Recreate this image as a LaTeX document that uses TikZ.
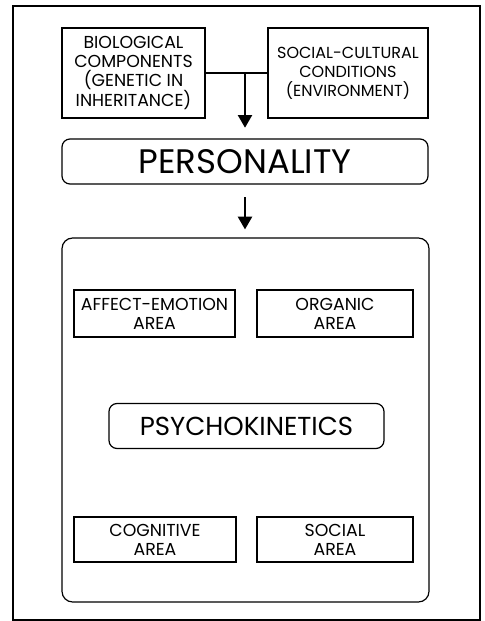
\documentclass[tikz,border=0pt]{standalone}
\usepackage{fontspec}
\setmainfont{Poppins}
\usetikzlibrary{arrows.meta}
\begin{document}
\begin{tikzpicture}[x=0.75pt,y=-0.75pt,
  box/.style={draw,line width=0.9pt,inner sep=0pt,align=center,
    font=\fontsize{13pt}{14.3pt}\selectfont},
  rbox/.style={draw,line width=0.9pt,rounded corners=6pt,inner sep=0pt,align=center},
  flow/.style={line width=1.6pt,-{Triangle[width=10.5pt,length=9.5pt]}},
  link/.style={line width=1.2pt}]
\useasboundingbox (0,0) rectangle (485,621);
\draw[line width=1.5pt] (12.5,6) rectangle (480,619.5);
% top boxes
\node[box,minimum width={143*0.75pt},minimum height={90*0.75pt}] (bio) at (133.5,73)
  {BIOLOGICAL\\COMPONENTS\\(GENETIC IN\\INHERITANCE)};
\node[box,font=\fontsize{12pt}{14.3pt}\selectfont,minimum width={160*0.75pt},minimum height={90*0.75pt}] (soc) at (348,73)
  {SOCIAL-CULTURAL\\CONDITIONS\\(ENVIRONMENT)};
\node[rbox,minimum width={366*0.75pt},minimum height={45*0.75pt},
  font=\fontsize{25.5pt}{28pt}\selectfont] (pers) at (245,161.5) {PERSONALITY};
\draw[link] (bio.east) -- (soc.west);
\coordinate (j) at (245,73);
\draw[flow,shorten >=8pt] (j) -- (j |- pers.north);
% lower area
\node[rbox,rounded corners=8pt,minimum width={367*0.75pt},minimum height={364*0.75pt}] (area) at (245.5,420) {};
\draw[flow,shorten <=9.5pt,shorten >=6pt] (j |- pers.south) -- (j |- area.north);
\node[box,minimum width={161*0.75pt},minimum height={47*0.75pt}] (aff) at (154.5,313.5)
  {AFFECT-EMOTION\\AREA};
\node[box,minimum width={156*0.75pt},minimum height={47*0.75pt}] (org) at (335,313.5)
  {ORGANIC\\AREA};
\node[rbox,minimum width={275*0.75pt},minimum height={45*0.75pt},
  font=\fontsize{19.5pt}{22pt}\selectfont] (psy) at (246.5,426) {PSYCHOKINETICS};
\node[box,minimum width={162*0.75pt},minimum height={45*0.75pt}] (cog) at (155,539.5)
  {COGNITIVE\\AREA};
\node[box,minimum width={156*0.75pt},minimum height={45*0.75pt}] (sca) at (335,539.5)
  {SOCIAL\\AREA};
\end{tikzpicture}
\end{document}
